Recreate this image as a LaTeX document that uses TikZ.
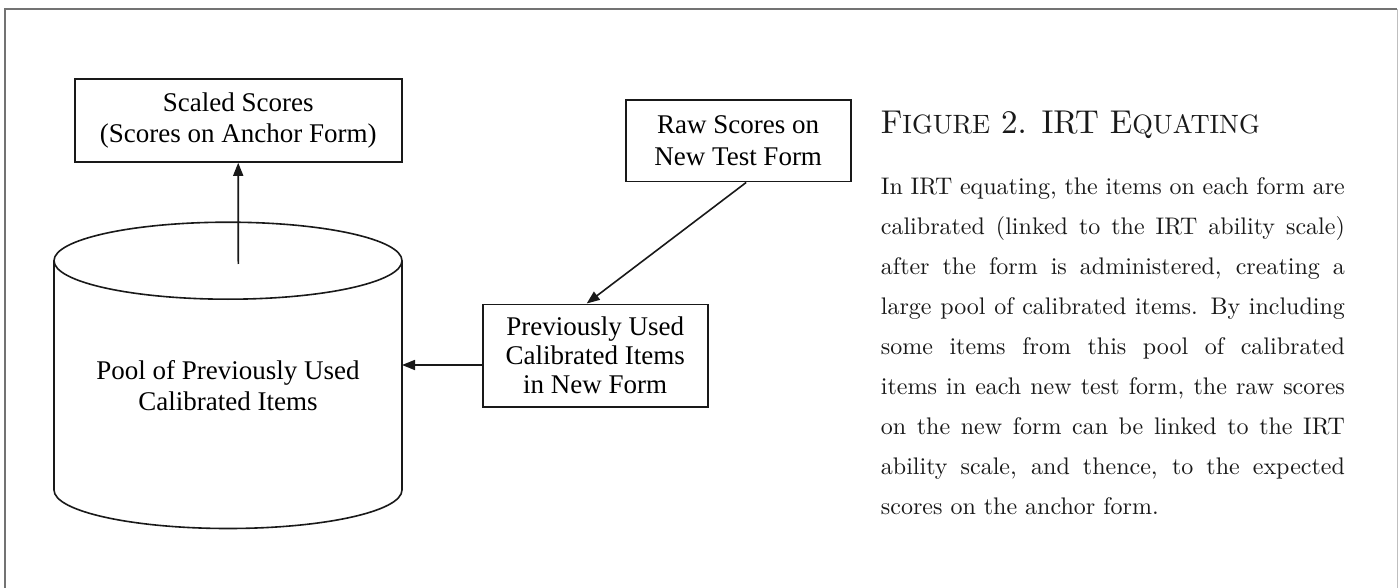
\documentclass[tikz,border=0pt]{standalone}
\usepackage{fontspec}
\newfontfamily\boxfont{Liberation Serif}
\newfontfamily\parafont[Extension=.otf]{lmroman10-regular}
\usetikzlibrary{arrows.meta}
\begin{document}
\begin{tikzpicture}[x=1pt,y=1pt]
\tikzstyle{every node}+=[inner sep=0pt]
\tikzstyle{box}=[draw=black!90, line width=1.6pt, align=center, font=\boxfont\fontsize{27}{31.5}\selectfont]
\tikzstyle{link}=[black!90, line width=1.6pt, -{Triangle[length=13pt,width=10pt]}]
\useasboundingbox (0,0) rectangle (1398,-588);
\fill [white] (0,0) rectangle (1398,-588);
\draw [black!55, line width=2pt] (4.7,-588) -- (4.7,-9.3) -- (1397,-9.3);
\draw [black!25, line width=1pt] (1397,-9.3) -- (1397,-588);
\node [box, minimum width=327pt, minimum height=83pt] (scaled) at (238.2,-120.5) {Scaled Scores\\(Scores on Anchor Form)};
\node [box, minimum width=225pt, minimum height=81.7pt] (raw) at (738.2,-140.8) {Raw Scores on\\New Test Form};
\node [box, minimum width=225pt, minimum height=102.4pt, font=\boxfont\fontsize{27}{29}\selectfont] (prev) at (595.2,-355.5) {Previously Used\\Calibrated Items\\in New Form};
\draw [black!90, line width=1.6pt] (228,-260.7) ellipse [x radius=174pt, y radius=38.5pt];
\draw [black!90, line width=1.6pt] (54,-260.7) -- (54,-490) arc [start angle=180, end angle=360, x radius=174pt, y radius=38.5pt] -- (402,-260.7);
\node [align=center, font=\boxfont\fontsize{27}{31}\selectfont] (pool) at (228,-386) {Pool of Previously Used\\Calibrated Items};
\coordinate (poolcap) at (238.3,-264);
\coordinate (poolside) at (402,-365);
\draw [link] (poolcap) -- (scaled.south);
\draw [link] (prev.west |- poolside) -- (poolside);
\draw [link] ([xshift=8pt]raw.south) -- ([xshift=-8.5pt]prev.north);
\node [anchor=base west, font=\parafont\fontsize{33}{36}\selectfont, text=black!90] (title) at (880.7,-133.3) {F{\fontsize{26.5}{30}\selectfont IGURE} 2. IRT E{\fontsize{26.5}{30}\selectfont QUATING}};
\node [anchor=north west, text width=464pt, align=justify, font=\parafont\fontsize{24}{40}\selectfont, text=black!90] (body) at (880.7,-177) {In IRT equating, the items on each form are\linebreak calibrated (linked to the IRT ability scale)\linebreak after the form is administered, creating a\linebreak large pool of calibrated items. By including\linebreak some items from this pool of calibrated\linebreak items in each new test form, the raw scores\linebreak on the new form can be linked to the IRT\linebreak ability scale, and thence, to the expected\linebreak scores on the anchor form.};
\end{tikzpicture}
\end{document}
